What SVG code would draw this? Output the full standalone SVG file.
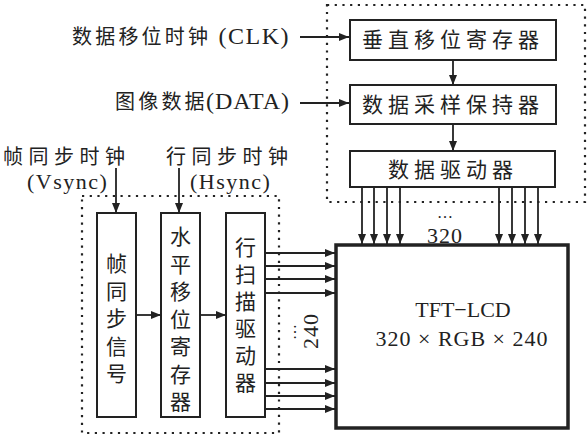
<svg xmlns="http://www.w3.org/2000/svg" width="588" height="443" viewBox="0 0 588 443">
<style>
.box{fill:#fff;stroke:#222;stroke-width:2}
.lcd{fill:#fff;stroke:#222;stroke-width:3.5}
.dot{fill:none;stroke:#222;stroke-width:2.2;stroke-dasharray:2.2 5.5}
.ln{stroke:#222;stroke-width:1.8;fill:none}
.t{font-family:"Liberation Serif","Noto Sans CJK SC",serif;fill:#222}
.c{font-family:"Noto Sans CJK SC",sans-serif;fill:#222;font-size:21px;text-anchor:middle}
.v{font-family:"Noto Sans CJK SC",sans-serif;fill:#222;font-size:21px;writing-mode:vertical-rl;letter-spacing:6.5px}
</style>
<defs>
<marker id="ah" markerWidth="10" markerHeight="8" refX="10" refY="4" orient="auto" markerUnits="userSpaceOnUse">
<path d="M0,0 L10,4 L0,8 Z" fill="#222"/>
</marker>
</defs>
<rect width="588" height="443" fill="#fff"/>
<g id="frames">
<rect class="dot" x="327" y="5" width="258" height="197"/>
<rect class="dot" x="82" y="196" width="197" height="237"/>
</g>
<g id="labels">
<text class="t" x="72" y="44" font-size="20" letter-spacing="3.2">数据移位时钟</text>
<text class="t" x="290" y="44" font-size="24" text-anchor="end" letter-spacing="1.5">(CLK)</text>
<text class="t" x="115" y="109" font-size="20" letter-spacing="3.2">图像数据</text>
<text class="t" x="290" y="109" font-size="24" text-anchor="end" letter-spacing="1">(DATA)</text>
<text class="t" x="3" y="164" font-size="20" letter-spacing="5.5">帧同步时钟</text>
<text class="t" x="27" y="189" font-size="22" letter-spacing="1.5">(Vsync)</text>
<text class="t" x="166" y="164" font-size="20" letter-spacing="5.5">行同步时钟</text>
<text class="t" x="190" y="189" font-size="22" letter-spacing="1.5">(Hsync)</text>
<text class="t" x="445" y="218" font-size="16" text-anchor="middle">…</text>
<text class="t" x="445" y="243" font-size="22" text-anchor="middle" letter-spacing="1">320</text>
<text class="t" x="296" y="332" font-size="16" text-anchor="middle" transform="rotate(-90 296 332)">…</text>
<text class="t" x="318" y="331" font-size="22" text-anchor="middle" letter-spacing="1" transform="rotate(-90 318 331)">240</text>
</g>
<g id="n_vsr">
<rect class="box" x="350" y="20" width="206" height="40"/>
<text class="c" x="453" y="47" letter-spacing="5">垂直移位寄存器</text>
</g>
<g id="n_sh">
<rect class="box" x="350" y="85" width="206" height="39"/>
<text class="c" x="453" y="112" letter-spacing="5">数据采样保持器</text>
</g>
<g id="n_dd">
<rect class="box" x="350" y="151" width="205" height="36"/>
<text class="c" x="453" y="177" letter-spacing="5">数据驱动器</text>
</g>
<g id="n_fs">
<rect class="box" x="97" y="213" width="39" height="204"/>
<text class="v" x="116.5" y="253">帧同步信号</text>
</g>
<g id="n_hsr">
<rect class="box" x="161" y="213" width="39" height="204"/>
<text class="v" x="180.5" y="226">水平移位寄存器</text>
</g>
<g id="n_sd">
<rect class="box" x="226" y="213" width="39" height="204"/>
<text class="v" x="245.5" y="237" style="letter-spacing:6px">行扫描驱动器</text>
</g>
<g id="n_lcd">
<rect class="lcd" x="336" y="245" width="232" height="183"/>
<text class="t" x="463" y="317" font-size="22" text-anchor="middle">TFT−LCD</text>
<text class="t" x="462" y="346" font-size="22" text-anchor="middle" letter-spacing="1">320 × RGB × 240</text>
</g>
<g id="connectors" class="ln" marker-end="url(#ah)">
<line x1="300" y1="37" x2="349" y2="37"/>
<line x1="300" y1="103" x2="349" y2="103"/>
<line x1="453" y1="60" x2="453" y2="85"/>
<line x1="453" y1="124" x2="453" y2="151"/>
<line x1="362" y1="187" x2="362" y2="244"/>
<line x1="374" y1="187" x2="374" y2="244"/>
<line x1="387" y1="187" x2="387" y2="244"/>
<line x1="400" y1="187" x2="400" y2="244"/>
<line x1="499" y1="187" x2="499" y2="244"/>
<line x1="512" y1="187" x2="512" y2="244"/>
<line x1="525" y1="187" x2="525" y2="244"/>
<line x1="538" y1="187" x2="538" y2="244"/>
<line x1="116" y1="168" x2="116" y2="213"/>
<line x1="179" y1="168" x2="179" y2="213"/>
<line x1="136" y1="315" x2="161" y2="315"/>
<line x1="200" y1="315" x2="226" y2="315"/>
<line x1="265" y1="253" x2="335" y2="253"/>
<line x1="265" y1="266" x2="335" y2="266"/>
<line x1="265" y1="279" x2="335" y2="279"/>
<line x1="265" y1="293" x2="335" y2="293"/>
<line x1="265" y1="369" x2="335" y2="369"/>
<line x1="265" y1="383" x2="335" y2="383"/>
<line x1="265" y1="396" x2="335" y2="396"/>
<line x1="265" y1="409" x2="335" y2="409"/>
</g>
</svg>
